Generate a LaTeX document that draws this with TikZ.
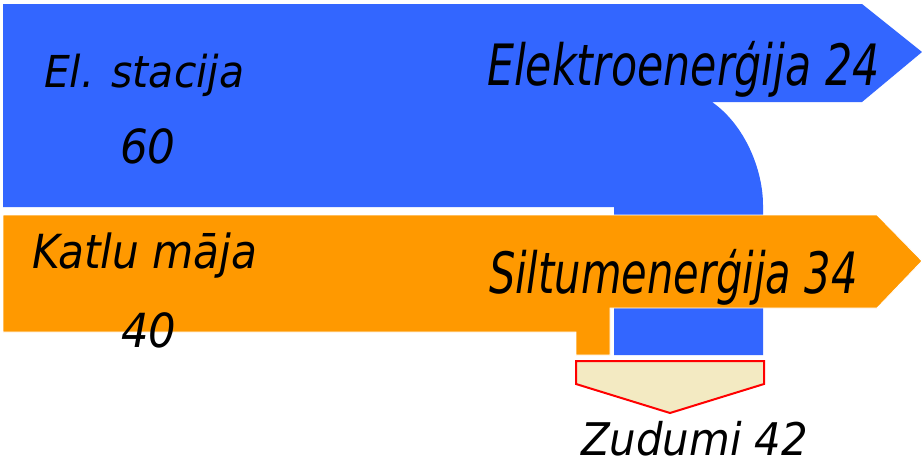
\documentclass[tikz,border=0pt]{standalone}
\usepackage{fontspec}
\setmainfont{DejaVu Sans}
\newfontfamily\lblfont{DejaVu Sans Oblique}
\definecolor{flowblue}{RGB}{51,102,255}
\definecolor{floworange}{RGB}{255,153,0}
\definecolor{lossfill}{RGB}{243,234,194}
\definecolor{lossred}{RGB}{255,0,0}
\tikzset{
  lbl/.style={anchor=base west, inner sep=0pt, outer sep=0pt, text=black},
  blueflow/.style={fill=flowblue, draw=none},
  orangeflow/.style={fill=floworange, draw=white, line width=0.8pt},
  lossbox/.style={fill=lossfill, draw=lossred, line width=2pt, line join=miter},
}
\newcommand{\lbltext}[3]{\scalebox{#2}[1]{\fontsize{#1}{#1}\lblfont #3}}
\begin{document}
\begin{tikzpicture}[x=1pt,y=-1pt]
\useasboundingbox[fill=white] (0,0) rectangle (922,469);
% blue flow: power station
\path[blueflow] (3,4) -- (862,4) -- (922,52) -- (862,102) -- (712,102)
  .. controls (745,125) and (763,170) .. (763,205) -- (763,355) -- (614,355)
  -- (614,207) -- (3,207) -- cycle;
% orange flow: boiler house
\path[orangeflow] (3,215) -- (877,215) -- (922,261) -- (877,308) -- (610,308)
  -- (610,355) -- (576,355) -- (576,332) -- (3,332) -- cycle;
% losses
\path[lossbox] (576,361) -- (764,361) -- (764,384) -- (670,413) -- (576,384) -- cycle;
% labels
\node[lbl] (elst) at (44,87) {\lbltext{44}{0.93}{El. stacija}};
\node[lbl] (sixty) at (120,163) {\lbltext{47}{0.93}{60}};
\node[lbl] (katlu) at (32,268) {\lbltext{47}{0.9}{Katlu māja}};
\node[lbl] (forty) at (121,347) {\lbltext{47}{0.92}{40}};
\node[lbl] (elek) at (487,85) {\lbltext{57}{0.75}{Elektroenerģija 24}};
\node[lbl] (silt) at (489,293) {\lbltext{57}{0.73}{Siltumenerģija 34}};
\node[lbl] (zud) at (581,455) {\lbltext{45}{0.93}{Zudumi 42}};
\end{tikzpicture}
\end{document}
